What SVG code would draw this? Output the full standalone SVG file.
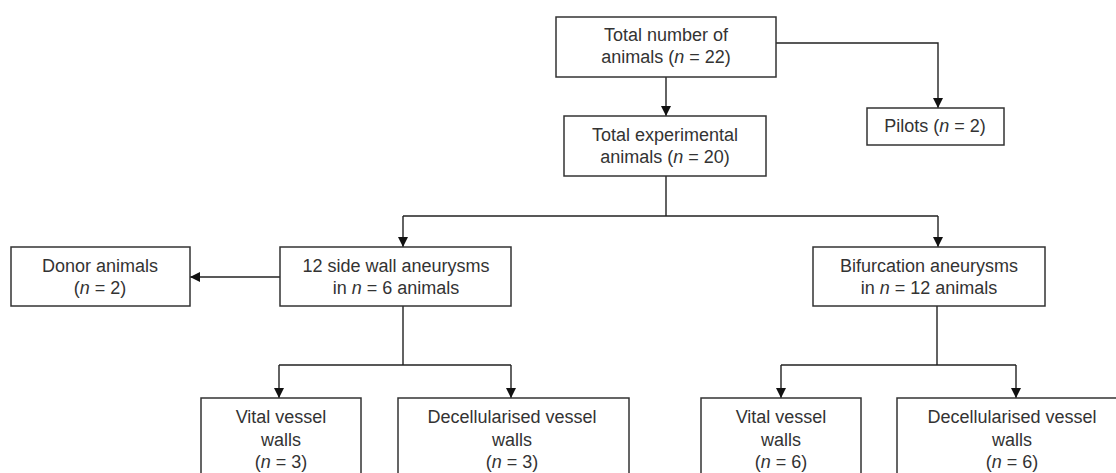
<svg xmlns="http://www.w3.org/2000/svg" width="1116" height="473" viewBox="0 0 1116 473">
<style>
.box{fill:#fff;stroke:#333;stroke-width:1.5}
.t{font-family:"Liberation Sans",Arial,sans-serif;font-size:18px;fill:#333;text-anchor:middle}
.i{font-style:italic}
.c{fill:none;stroke:#222;stroke-width:1.4}
.a{marker-end:url(#ah)}
</style>
<defs>
<marker id="ah" markerUnits="userSpaceOnUse" markerWidth="10" markerHeight="12" refX="10" refY="5" orient="auto" viewBox="0 0 10 10">
<path d="M0,0 L10,5 L0,10 z" fill="#111"/>
</marker>
</defs>
<rect width="1116" height="473" fill="#fff"/>
<g id="connectors">
<path class="c a" d="M666,77 V116"/>
<path class="c a" d="M776,43 H938 V108"/>
<path class="c" d="M666,176 V216 M403,216 H938"/>
<path class="c a" d="M403,216 V247"/>
<path class="c a" d="M938,216 V247"/>
<path class="c a" d="M280,277 H190"/>
<path class="c" d="M403,306 V365 M279,365 H511"/>
<path class="c a" d="M279,365 V398"/>
<path class="c a" d="M511,365 V398"/>
<path class="c" d="M937,306 V365 M781,365 H1016"/>
<path class="c a" d="M781,365 V398"/>
<path class="c a" d="M1016,365 V398"/>
</g>
<g id="total">
<rect class="box" x="556" y="17" width="220" height="60"/>
<text class="t" x="666" y="41">Total number of</text>
<text class="t" x="666" y="63">animals  (<tspan class="i">n</tspan> = 22)</text>
</g>
<g id="pilots">
<rect class="box" x="867" y="108" width="137" height="37"/>
<text class="t" x="935" y="132">Pilots (<tspan class="i">n</tspan> = 2)</text>
</g>
<g id="experimental">
<rect class="box" x="564" y="116" width="202" height="60"/>
<text class="t" x="665" y="141">Total experimental</text>
<text class="t" x="665" y="163">animals (<tspan class="i">n</tspan> = 20)</text>
</g>
<g id="donor">
<rect class="box" x="11" y="247" width="179" height="59"/>
<text class="t" x="100" y="272">Donor animals</text>
<text class="t" x="100" y="294">(<tspan class="i">n</tspan> = 2)</text>
</g>
<g id="sidewall">
<rect class="box" x="280" y="247" width="231" height="59"/>
<text class="t" x="396" y="272">12 side wall aneurysms</text>
<text class="t" x="396" y="294">in <tspan class="i">n</tspan> = 6 animals</text>
</g>
<g id="bifurcation">
<rect class="box" x="813" y="247" width="232" height="59"/>
<text class="t" x="929" y="272">Bifurcation aneurysms</text>
<text class="t" x="929" y="294">in <tspan class="i">n</tspan> = 12 animals</text>
</g>
<g id="vital1">
<rect class="box" x="201" y="398" width="160" height="90"/>
<text class="t" x="281" y="423">Vital vessel</text>
<text class="t" x="281" y="446">walls</text>
<text class="t" x="281" y="468">(<tspan class="i">n</tspan> = 3)</text>
</g>
<g id="decell1">
<rect class="box" x="398" y="398" width="231" height="90"/>
<text class="t" x="512" y="423">Decellularised vessel</text>
<text class="t" x="512" y="446">walls</text>
<text class="t" x="512" y="468">(<tspan class="i">n</tspan> = 3)</text>
</g>
<g id="vital2">
<rect class="box" x="701" y="398" width="160" height="90"/>
<text class="t" x="781" y="423">Vital vessel</text>
<text class="t" x="781" y="446">walls</text>
<text class="t" x="781" y="468">(<tspan class="i">n</tspan> = 6)</text>
</g>
<g id="decell2">
<rect class="box" x="897" y="398" width="231" height="90"/>
<text class="t" x="1012" y="423">Decellularised vessel</text>
<text class="t" x="1012" y="446">walls</text>
<text class="t" x="1012" y="468">(<tspan class="i">n</tspan> = 6)</text>
</g>
</svg>
